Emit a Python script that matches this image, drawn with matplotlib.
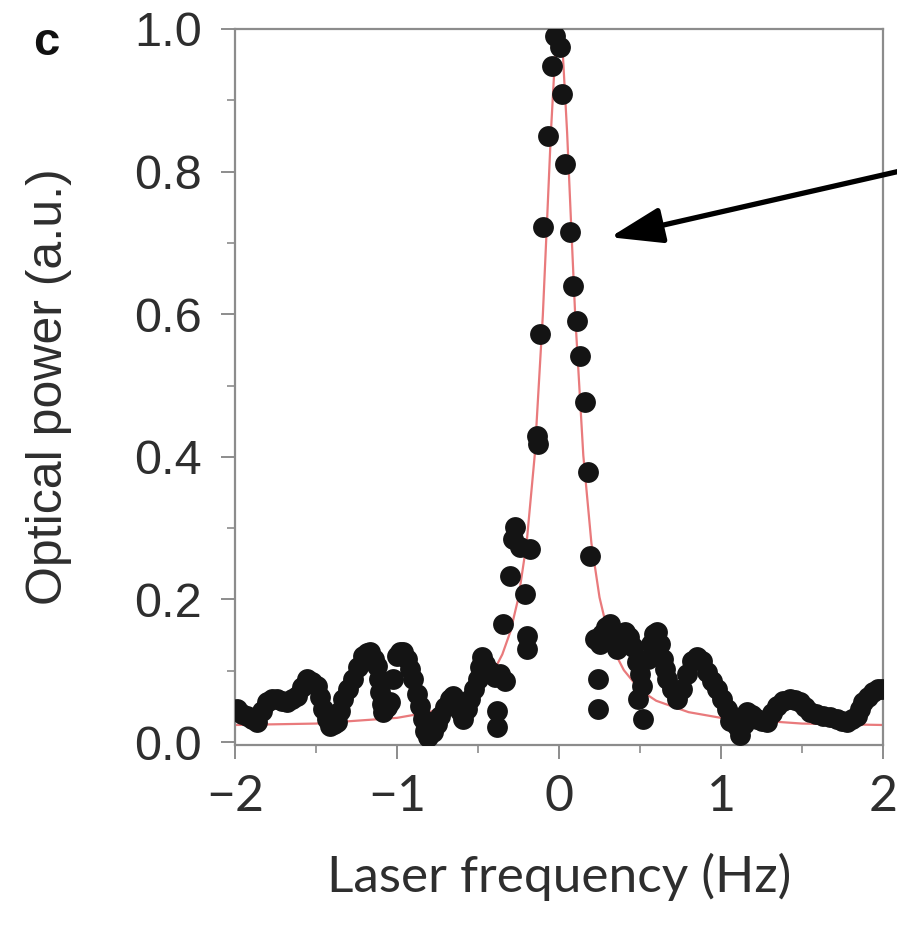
import matplotlib
matplotlib.use("Agg")
import matplotlib.pyplot as plt
from matplotlib.ticker import MultipleLocator, FuncFormatter

# ---- measured data (black dots) ----
freq_hz = [
    -1.988, -1.957, -1.926, -1.895, -1.864, -1.833, -1.802, -1.772, -1.741, -1.710,
    -1.679, -1.648, -1.617, -1.586, -1.556, -1.525, -1.494, -1.475, -1.457, -1.432,
    -1.414, -1.389, -1.370, -1.352, -1.333, -1.302, -1.272, -1.241, -1.210, -1.185,
    -1.167, -1.142, -1.123, -1.111, -1.105, -1.093, -1.086, -1.062, -1.043, -1.025,
    -1.000, -0.981, -0.963, -0.938, -0.920, -0.901, -0.877, -0.858, -0.840, -0.827,
    -0.809, -0.778, -0.753, -0.735, -0.704, -0.673, -0.654, -0.630, -0.611, -0.593,
    -0.568, -0.549, -0.525, -0.500, -0.488, -0.475, -0.457, -0.426, -0.395, -0.364,
    -0.333, -0.383, -0.383, -0.346,
    -0.302, -0.284, -0.272, -0.241, -0.210, -0.198, -0.198, -0.179, -0.136, -0.130,
    -0.117, -0.099, -0.068, -0.043, -0.025, 0.006, 0.019, 0.037, 0.068, 0.086,
    0.111, 0.130, 0.160, 0.179, 0.191, 0.241, 0.241,
    0.222, 0.253, 0.265, 0.290, 0.315, 0.340, 0.358, 0.383, 0.407, 0.432,
    0.457, 0.481, 0.500, 0.512, 0.488, 0.519, 0.549, 0.568, 0.586, 0.605,
    0.623, 0.642, 0.654, 0.667, 0.698, 0.728, 0.759, 0.790, 0.821, 0.852,
    0.883, 0.914, 0.944, 0.975, 1.006, 1.037, 1.056, 1.080, 1.099, 1.117,
    1.142, 1.160, 1.191, 1.222, 1.253, 1.284, 1.315, 1.346, 1.383, 1.426,
    1.457, 1.488, 1.519, 1.549, 1.586, 1.630, 1.673, 1.716, 1.747, 1.778,
    1.809, 1.840, 1.858, 1.877, 1.907, 1.938, 1.969, 1.994,
]
power_au = [
    0.046, 0.039, 0.036, 0.032, 0.028, 0.043, 0.056, 0.060, 0.060, 0.058,
    0.056, 0.060, 0.065, 0.077, 0.088, 0.084, 0.079, 0.063, 0.046, 0.032,
    0.022, 0.025, 0.028, 0.043, 0.060, 0.074, 0.088, 0.105, 0.121, 0.125,
    0.126, 0.116, 0.107, 0.088, 0.070, 0.053, 0.042, 0.049, 0.056, 0.088,
    0.121, 0.126, 0.126, 0.116, 0.102, 0.088, 0.067, 0.050, 0.032, 0.015,
    0.007, 0.014, 0.025, 0.036, 0.049, 0.060, 0.065, 0.056, 0.043, 0.032,
    0.046, 0.060, 0.074, 0.088, 0.105, 0.119, 0.109, 0.100, 0.091, 0.095,
    0.086, 0.043, 0.021, 0.165,
    0.233, 0.285, 0.302, 0.273, 0.208, 0.149, 0.130, 0.271, 0.429, 0.418,
    0.572, 0.722, 0.850, 0.948, 0.990, 0.975, 0.909, 0.811, 0.715, 0.640,
    0.590, 0.541, 0.477, 0.379, 0.261, 0.088, 0.046,
    0.144, 0.137, 0.151, 0.161, 0.165, 0.144, 0.130, 0.144, 0.154, 0.147,
    0.133, 0.112, 0.095, 0.079, 0.060, 0.032, 0.116, 0.137, 0.151, 0.154,
    0.137, 0.116, 0.102, 0.088, 0.074, 0.060, 0.074, 0.095, 0.114, 0.119,
    0.114, 0.098, 0.086, 0.074, 0.060, 0.046, 0.029, 0.035, 0.022, 0.010,
    0.025, 0.042, 0.038, 0.032, 0.029, 0.028, 0.041, 0.050, 0.058, 0.060,
    0.059, 0.056, 0.049, 0.042, 0.039, 0.036, 0.035, 0.032, 0.029, 0.028,
    0.032, 0.036, 0.046, 0.056, 0.063, 0.070, 0.074, 0.074,
]

# ---- fitted curve (red line) ----
fit_freq_hz = [-2.0, -1.5, -1.0, -0.8, -0.6, -0.5, -0.4, -0.35, -0.3, -0.25,
               -0.2, -0.15, -0.1, -0.075, -0.05, -0.025, 0.0, 0.025, 0.05, 0.075,
               0.1, 0.15, 0.2, 0.25, 0.3, 0.35, 0.4, 0.5, 0.6, 0.8,
               1.0, 1.5, 2.0]
fit_power_au = [0.024, 0.026, 0.034, 0.042, 0.058, 0.073, 0.101, 0.123, 0.155, 0.203,
                0.279, 0.402, 0.598, 0.725, 0.855, 0.959, 1.000, 0.959, 0.855, 0.725,
                0.598, 0.402, 0.279, 0.203, 0.155, 0.123, 0.101, 0.073, 0.058, 0.042,
                0.034, 0.026, 0.024]

x_ticks = [-2, -1, 0, 1, 2]
y_ticks = [0.0, 0.2, 0.4, 0.6, 0.8, 1.0]

fig = plt.figure(figsize=(8.97, 9.26), dpi=100)
ax = fig.add_axes([0.262, 0.1955, 0.7224, 0.7732])

ax.plot(fit_freq_hz, fit_power_au, color="#e97a7c", lw=1.6, zorder=2)
ax.plot(freq_hz, power_au, linestyle="none", marker="o", markersize=15,
        color="#141414", markeredgewidth=0, zorder=3)

ax.set_xlim(-2, 2)
ax.set_ylim(-0.004, 1.0)
ax.set_xticks(x_ticks)
ax.set_yticks(y_ticks)
ax.xaxis.set_minor_locator(MultipleLocator(0.5))
ax.yaxis.set_minor_locator(MultipleLocator(0.1))
ax.xaxis.set_major_formatter(FuncFormatter(lambda v, p: ("\u2212%d" % abs(v)) if v < 0 else "%d" % v))
ax.yaxis.set_major_formatter(FuncFormatter(lambda v, p: "%.1f" % v))

spine_col = "#8c8c8c"
for s in ax.spines.values():
    s.set_color(spine_col)
    s.set_linewidth(1.6)

ax.tick_params(axis="both", which="major", direction="out", length=10, width=1.4,
               color=spine_col, labelcolor="#2e2e2e")
ax.tick_params(axis="both", which="minor", direction="out", length=6, width=1.2,
               color=spine_col)
ax.tick_params(axis="y", which="major", pad=14)
ax.tick_params(axis="x", which="major", pad=11)
for lab in ax.get_yticklabels():
    lab.set_family("Liberation Sans")
    lab.set_fontsize(35)
for lab in ax.get_xticklabels():
    lab.set_family("Lato")
    lab.set_fontsize(36)

ax.set_xlabel("Laser frequency (Hz)", family="Lato", fontsize=37, color="#2e2e2e")
ax.xaxis.set_label_coords(0.5, -0.150)
ax.set_ylabel("Optical power (a.u.)", family="Liberation Sans", fontsize=36, color="#2e2e2e")
ax.yaxis.set_label_coords(-0.2515, 0.5)

fig.text(0.052, 0.954, "c", family="Liberation Sans", fontweight="bold", fontsize=34,
         ha="center", va="center", color="#111111")

ax.annotate("", xy=(0.315, 0.708), xytext=(2.09, 0.80), xycoords="data", textcoords="data",
            annotation_clip=False,
            arrowprops=dict(arrowstyle="-|>,head_length=1.6,head_width=0.55",
                            mutation_scale=20, lw=3.8, color="black",
                            shrinkA=0, shrinkB=0))

fig.savefig("out.png", dpi=100)
